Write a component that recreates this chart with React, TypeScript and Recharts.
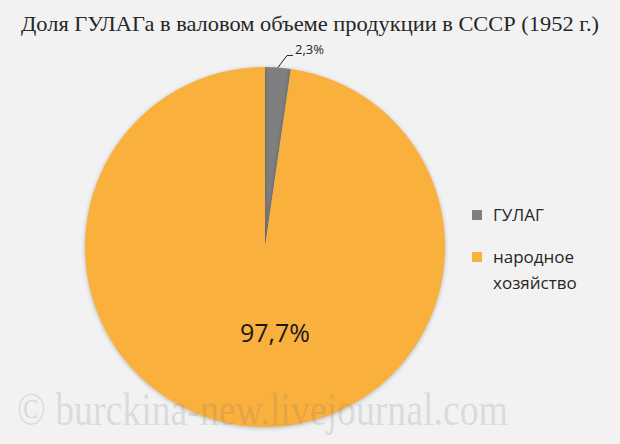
import React from "react"
import { PieChart, Pie, Cell, Legend } from "recharts"

const categories = ["ГУЛАГ", "народное хозяйство"]
const shares = [2.3, 97.7]
const shareLabels = ["2,3%", "97,7%"]
const colors = ["#7f7f7f", "#fab03c"]

const title = "Доля ГУЛАГа в валовом объеме продукции в СССР (1952 г.)"
const watermark = "© burckina-new.livejournal.com"

const data = categories.map((name, i) => ({ name, value: shares[i], label: shareLabels[i] }))

const RAD = Math.PI / 180

function renderLabel(props: any) {
  const { cx, cy, midAngle, outerRadius, index } = props
  if (index === 0) {
    const sx = cx + outerRadius * Math.cos(-midAngle * RAD)
    const sy = cy + outerRadius * Math.sin(-midAngle * RAD)
    const mx = sx + 9
    const my = sy - 12
    return (
      <g>
        <polyline
          points={`${sx},${sy} ${mx},${my} ${mx + 6},${my}`}
          fill="none"
          stroke="#262626"
          strokeWidth={1}
        />
        <text x={mx + 8} y={my} dy={-1} fontSize={13} fill="#262626" fontFamily="'Open Sans', sans-serif">
          {shareLabels[index]}
        </text>
      </g>
    )
  }
  return (
    <text
      x={cx + 10}
      y={cy + outerRadius * 0.47}
      textAnchor="middle"
      dominantBaseline="central"
      fontSize={25}
      fill="#1a1a1a"
      fontFamily="'Open Sans', sans-serif"
    >
      {shareLabels[index]}
    </text>
  )
}

function LegendContent(props: any) {
  const { payload } = props
  return (
    <div style={{ fontFamily: "'Open Sans', sans-serif", fontSize: 17, color: "#262626" }}>
      {payload.map((p: any, i: number) => (
        <div key={i} style={{ display: "flex", alignItems: "flex-start", marginBottom: 16 }}>
          <span
            style={{
              width: 10,
              height: 10,
              background: p.color,
              marginTop: 8,
              marginRight: 11,
              flex: "none",
            }}
          />
          <span style={{ lineHeight: "26px", width: 100 }}>{p.value}</span>
        </div>
      ))}
    </div>
  )
}

export default function App() {
  return (
    <div
      style={{
        position: "absolute",
        left: 0,
        top: 0,
        width: 620,
        height: 444,
        background: "#f2f2f2",
        overflow: "hidden",
      }}
    >
      <style>{`.recharts-pie-sector path { filter: drop-shadow(0 1px 2px rgba(0,0,0,0.25)); }`}</style>
      <svg width={620} height={444} style={{ position: "absolute", left: 0, top: 0 }}>
        <text
          x={310}
          y={31}
          textAnchor="middle"
          fontSize={22}
          fill="#262626"
          fontFamily="'Liberation Serif', serif"
          textLength={578}
          lengthAdjust="spacingAndGlyphs"
        >
          {title}
        </text>
      </svg>
      <div style={{ position: "absolute", left: 0, top: 0 }}>
        <PieChart width={620} height={444} margin={{ top: 0, right: 0, bottom: 0, left: 0 }}>
          <Pie
            data={data}
            dataKey="value"
            nameKey="name"
            cx={265}
            cy={247}
            outerRadius={180}
            startAngle={90}
            endAngle={-270}
            stroke="none"
            label={renderLabel}
            labelLine={false}
            isAnimationActive={false}
          >
            {data.map((d, i) => (
              <Cell key={d.name} fill={colors[i]} />
            ))}
          </Pie>
          <Legend
            layout="vertical"
            align="right"
            verticalAlign="top"
            content={<LegendContent />}
            wrapperStyle={{ left: 472, top: 202, width: 140 }}
          />
        </PieChart>
      </div>
      <svg width={620} height={444} style={{ position: "absolute", left: 0, top: 0, pointerEvents: "none" }}>
        <text
          x={17}
          y={425}
          fontSize={46}
          fill="rgba(120,120,120,0.2)"
          fontFamily="'Liberation Serif', serif"
          textLength={491}
          lengthAdjust="spacingAndGlyphs"
        >
          {watermark}
        </text>
      </svg>
    </div>
  )
}
